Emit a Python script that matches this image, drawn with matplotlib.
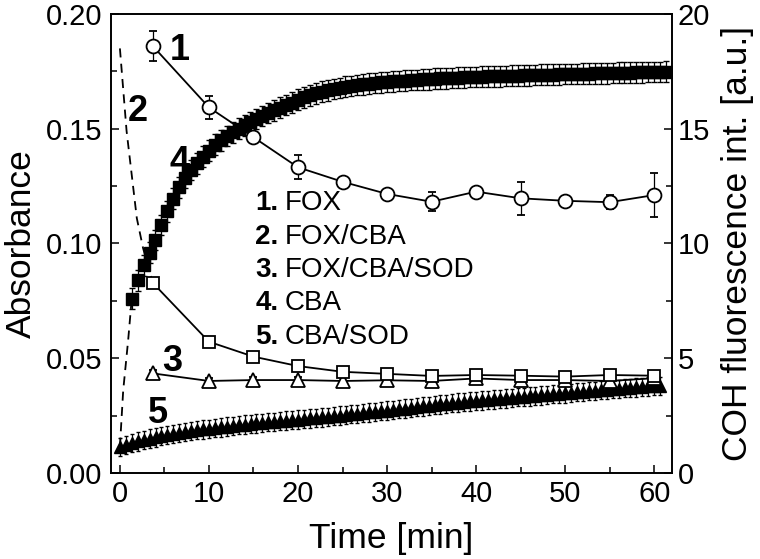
import numpy as np
import matplotlib
matplotlib.use("Agg")
import matplotlib.pyplot as plt
from matplotlib.ticker import MultipleLocator

plt.rcParams['font.family'] = ['Liberation Sans', 'DejaVu Sans']

# ---------------- data ----------------
# Absorbance series (left axis)
t_abs = [3.7, 10, 15, 20, 25, 30, 35, 40, 45, 50, 55, 60]
fox = [0.186, 0.1593, 0.1463, 0.1332, 0.1269, 0.1216, 0.1182, 0.1226, 0.1197, 0.1186, 0.1180, 0.1211]
fox_err = [0.0065, 0.005, 0.0015, 0.0053, 0.0015, 0.0015, 0.0042, 0.0008, 0.0071, 0.0015, 0.003, 0.0097]
fox_cba = [0.0828, 0.0572, 0.0507, 0.0466, 0.0441, 0.0432, 0.0423, 0.0427, 0.0424, 0.0420, 0.0427, 0.0424]
fox_cba_err = [0.001, 0.001, 0.0008, 0.001, 0.0015, 0.0015, 0.002, 0.0018, 0.0015, 0.0015, 0.002, 0.0015]
fox_cba_sod = [0.0434, 0.0401, 0.0405, 0.0405, 0.0401, 0.0404, 0.0401, 0.0412, 0.0405, 0.0405, 0.0401, 0.0413]
fox_cba_sod_err = [0.0015, 0.0015, 0.0015, 0.0015, 0.0018, 0.002, 0.0025, 0.002, 0.002, 0.002, 0.002, 0.002]

# early part of FOX/CBA (dashed)
t_fox_cba_early = [0.0, 0.75, 1.9, 2.6, 3.7]
fox_cba_early = [0.185, 0.149, 0.111, 0.098, 0.0828]

# Fluorescence series (right axis)
cba = [7.6, 8.4, 9.05, 9.6, 10.15, 10.8, 11.4, 11.95, 12.45, 12.85,
       13.2, 13.5, 13.78, 14.05, 14.3, 14.5, 14.68, 14.85, 15.0, 15.15,
       15.3, 15.43, 15.56, 15.68, 15.8, 15.92, 16.03, 16.14, 16.27, 16.37,
       16.46, 16.54, 16.61, 16.67, 16.73, 16.78, 16.83, 16.87, 16.91, 16.94,
       16.97, 17.0, 17.02, 17.04, 17.06, 17.08, 17.1, 17.12, 17.13, 17.15,
       17.16, 17.18, 17.19, 17.2, 17.21, 17.23, 17.24, 17.25, 17.26, 17.27,
       17.28, 17.29, 17.29, 17.3, 17.31, 17.32, 17.33, 17.33, 17.34, 17.35,
       17.36, 17.36, 17.37, 17.38, 17.38, 17.39, 17.4, 17.4, 17.41, 17.42,
       17.42, 17.43, 17.44, 17.44, 17.45, 17.46, 17.46, 17.47, 17.47, 17.48,
       17.49]
t_cba = np.linspace(1.33, 61.33, len(cba))
cba_err = 0.45

t_cba_early = [0.0, 0.37, 0.93, 1.33]
cba_early = [1.15, 3.6, 5.8, 7.6]

cba_sod = [1.13, 1.22, 1.3, 1.38, 1.44, 1.5, 1.55, 1.6, 1.65, 1.7,
           1.74, 1.78, 1.82, 1.86, 1.9, 1.93, 1.96, 1.99, 2.02, 2.05,
           2.08, 2.11, 2.13, 2.16, 2.18, 2.21, 2.23, 2.26, 2.28, 2.31,
           2.33, 2.35, 2.38, 2.4, 2.42, 2.45, 2.47, 2.5, 2.53, 2.56,
           2.58, 2.61, 2.64, 2.66, 2.69, 2.72, 2.75, 2.78, 2.81, 2.84,
           2.87, 2.9, 2.93, 2.96, 2.99, 3.02, 3.04, 3.07, 3.09, 3.12,
           3.14, 3.16, 3.18, 3.21, 3.23, 3.25, 3.28, 3.3, 3.32, 3.34,
           3.36, 3.38, 3.41, 3.43, 3.45, 3.47, 3.49, 3.52, 3.54, 3.56,
           3.58, 3.61, 3.63, 3.65, 3.67, 3.69, 3.71, 3.73, 3.75, 3.77,
           3.79, 3.8]
t_cba_sod = np.linspace(0.0, 60.67, len(cba_sod))
cba_sod_err = 0.4

legend_nums = ["1.", "2.", "3.", "4.", "5."]
legend_names = ["FOX", "FOX/CBA", "FOX/CBA/SOD", "CBA", "CBA/SOD"]

# ---------------- figure ----------------
fig = plt.figure(figsize=(7.6, 5.59), dpi=100)
ax = fig.add_axes([111/760, 1-473/559, (672-111)/760, (473-14)/559])
ax2 = ax.twinx()
ax.set_zorder(ax2.get_zorder() + 1)
ax.patch.set_visible(False)

lw = 1.3
# right-axis series
ax2.plot(t_cba_early, cba_early, color='black', lw=lw, ls=(0, (5, 3.5)))
ax2.errorbar(t_cba, cba, yerr=cba_err, fmt='s', color='black', ms=8.8,
             mfc='black', mec='black', ecolor='black', elinewidth=0.9, capsize=2.2)
ax2.errorbar(t_cba_sod, cba_sod, yerr=cba_sod_err, fmt='^', color='black', ms=9,
             mfc='black', mec='black', ecolor='black', elinewidth=0.9, capsize=1.5)

# left-axis series
ax.plot(t_fox_cba_early, fox_cba_early, color='black', lw=lw, ls=(0, (5, 3.5)))
ax.errorbar(t_abs, fox_cba_sod, yerr=fox_cba_sod_err, fmt='-^', color='black', lw=lw,
            ms=9.5, mfc='white', mec='black', mew=1.3, ecolor='black', elinewidth=0.9, capsize=3)
ax.errorbar(t_abs, fox_cba, yerr=fox_cba_err, fmt='-s', color='black', lw=lw,
            ms=8.5, mfc='white', mec='black', mew=1.3, ecolor='black', elinewidth=0.9, capsize=3)
ax.errorbar(t_abs, fox, yerr=fox_err, fmt='-o', color='black', lw=lw,
            ms=10, mfc='white', mec='black', mew=1.3, ecolor='black', elinewidth=0.9, capsize=3)

# axes limits / ticks
ax.set_xlim(-1, 62)
ax.set_ylim(0, 0.20)
ax2.set_ylim(0, 20)
ax.xaxis.set_major_locator(MultipleLocator(10))
ax.xaxis.set_minor_locator(MultipleLocator(5))
ax.yaxis.set_major_locator(MultipleLocator(0.05))
ax.yaxis.set_minor_locator(MultipleLocator(0.025))
ax2.yaxis.set_major_locator(MultipleLocator(5))
ax2.yaxis.set_minor_locator(MultipleLocator(2.5))
ax.yaxis.set_major_formatter(matplotlib.ticker.FormatStrFormatter('%.2f'))

fs = 21
ax.tick_params(axis='both', which='both', direction='in', labelsize=fs, width=1.1)
ax.tick_params(axis='both', which='major', length=6)
ax.tick_params(axis='both', which='minor', length=4)
ax.tick_params(axis='y', pad=6)
ax.tick_params(axis='x', pad=5)
ax2.tick_params(axis='y', which='both', direction='in', labelsize=fs, width=1.1, pad=4)
ax2.tick_params(axis='y', which='major', length=6)
ax2.tick_params(axis='y', which='minor', length=4)
for a in (ax, ax2):
    for s in a.spines.values():
        s.set_linewidth(1.2)

lab_fs = 25.5
ax.set_xlabel("Time [min]", fontsize=lab_fs, labelpad=10)
ax.set_ylabel("Absorbance", fontsize=lab_fs, labelpad=6)
ax2.set_ylabel("COH fluorescence int. [a.u.]", fontsize=lab_fs, labelpad=8)

# series number labels
nfs = 26
ax.text(6.74, 0.1843, "1", fontsize=nfs, fontweight='bold', ha='center', va='center')
ax.text(2.06, 0.1574, "2", fontsize=nfs, fontweight='bold', ha='center', va='center')
ax.text(6.74, 0.1355, "4", fontsize=nfs, fontweight='bold', ha='center', va='center')
ax.text(5.84, 0.0484, "3", fontsize=nfs, fontweight='bold', ha='center', va='center')
ax.text(4.3, 0.0261, "5", fontsize=nfs, fontweight='bold', ha='center', va='center')

# legend-like text block
lfs = 20
leg_y = [0.1176, 0.1030, 0.0885, 0.0739, 0.0593]
for num, name, yy in zip(legend_nums, legend_names, leg_y):
    ax.text(15.2, yy, num, fontsize=lfs, fontweight='bold', ha='left', va='center')
    ax.text(18.5, yy, name, fontsize=lfs, ha='left', va='center')

fig.savefig("out.png", dpi=100)
